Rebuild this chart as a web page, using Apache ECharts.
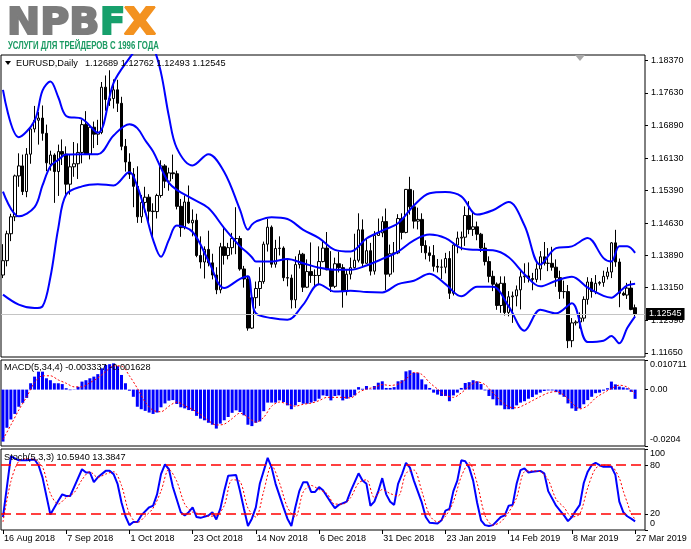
<!DOCTYPE html>
<html>
<head>
<meta charset="utf-8">
<title>EURUSD Daily</title>
<script src="https://cdn.jsdelivr.net/npm/echarts@6.0.0/dist/echarts.min.js"></script>
<style>
html, body { margin: 0; padding: 0; background: #fff; }
#chart { width: 691px; height: 549px; }
</style>
</head>
<body>
<div id="chart"></div>
<script>
// EURUSD daily, 16 Aug 2018 - 27 Mar 2019 (incl. three short Sunday bars in March)
var opens = [
  1.1344, 1.1377, 1.1439, 1.1478, 1.1572, 1.1595, 1.1536, 1.1622, 1.1680, 1.1700,
  1.1705, 1.1670, 1.1599, 1.1620, 1.1582, 1.1628, 1.1622, 1.1553, 1.1593, 1.1600,
  1.1626, 1.1690, 1.1622, 1.1684, 1.1668, 1.1672, 1.1776, 1.1745, 1.1750, 1.1770,
  1.1739, 1.1640, 1.1604, 1.1576, 1.1548, 1.1478, 1.1511, 1.1523, 1.1491, 1.1490,
  1.1527, 1.1595, 1.1560, 1.1579, 1.1577, 1.1502, 1.1453, 1.1512, 1.1464, 1.1470,
  1.1389, 1.1374, 1.1403, 1.1372, 1.1344, 1.1310, 1.1409, 1.1389, 1.1407, 1.1428,
  1.1428, 1.1358, 1.1335, 1.1222, 1.1292, 1.1313, 1.1329, 1.1415, 1.1454, 1.1369,
  1.1405, 1.1406, 1.1338, 1.1337, 1.1287, 1.1368, 1.1392, 1.1316, 1.1352, 1.1343,
  1.1343, 1.1375, 1.1406, 1.1356, 1.1318, 1.1370, 1.1361, 1.1306, 1.1346, 1.1361,
  1.1378, 1.1448, 1.1371, 1.1400, 1.1353, 1.1435, 1.1441, 1.1467, 1.1346, 1.1393,
  1.1395, 1.1474, 1.1442, 1.1541, 1.1501, 1.1468, 1.1472, 1.1412, 1.1395, 1.1389,
  1.1364, 1.1362, 1.1362, 1.1382, 1.1302, 1.1413, 1.1429, 1.1431, 1.1481, 1.1449,
  1.1455, 1.1438, 1.1406, 1.1375, 1.1341, 1.1323, 1.1274, 1.1325, 1.1258, 1.1294,
  1.1296, 1.1310, 1.1340, 1.1342, 1.1336, 1.1334, 1.1358, 1.1386, 1.1371, 1.1371,
  1.1362, 1.1338, 1.1306, 1.1306, 1.1193, 1.1234, 1.1236, 1.1245, 1.1288, 1.1328,
  1.1306, 1.1325, 1.1327, 1.1341, 1.1351, 1.1418, 1.1374, 1.1302, 1.1298, 1.1314,
  1.12689
];
var highs = [
  1.1415, 1.1446, 1.1485, 1.1575, 1.1624, 1.1621, 1.1636, 1.1685, 1.1733, 1.1719,
  1.1734, 1.1690, 1.1630, 1.1624, 1.1644, 1.1656, 1.1640, 1.1621, 1.1650, 1.1647,
  1.1701, 1.1721, 1.1687, 1.1697, 1.1701, 1.1788, 1.1803, 1.1815, 1.1794, 1.1793,
  1.1754, 1.1657, 1.1624, 1.1590, 1.1594, 1.1528, 1.1547, 1.1530, 1.1509, 1.1531,
  1.1608, 1.1599, 1.1591, 1.1621, 1.1584, 1.1519, 1.1527, 1.1550, 1.1495, 1.1485,
  1.1433, 1.1410, 1.1446, 1.1393, 1.1362, 1.1418, 1.1456, 1.1418, 1.1441, 1.1500,
  1.1434, 1.1365, 1.1342, 1.1307, 1.1329, 1.1362, 1.1421, 1.1473, 1.1458, 1.1425,
  1.1433, 1.1410, 1.1382, 1.1345, 1.1387, 1.1401, 1.1395, 1.1380, 1.1419, 1.1357,
  1.1410, 1.1424, 1.1443, 1.1399, 1.1384, 1.1398, 1.1369, 1.1356, 1.1384, 1.1439,
  1.1486, 1.1472, 1.1427, 1.1418, 1.1445, 1.1474, 1.1479, 1.1497, 1.1414, 1.1420,
  1.1484, 1.1486, 1.1542, 1.1570, 1.1539, 1.1499, 1.1486, 1.1424, 1.1410, 1.1413,
  1.1381, 1.1380, 1.1395, 1.1399, 1.1419, 1.1444, 1.1444, 1.1502, 1.1514, 1.1488,
  1.1467, 1.1441, 1.1418, 1.1387, 1.1354, 1.1327, 1.1341, 1.1341, 1.1307, 1.1306,
  1.1320, 1.1353, 1.1371, 1.1373, 1.1349, 1.1371, 1.1399, 1.1420, 1.1406, 1.1409,
  1.1380, 1.1354, 1.1331, 1.1321, 1.1245, 1.1240, 1.1258, 1.1295, 1.1339, 1.1337,
  1.1344, 1.1330, 1.1354, 1.1362, 1.1420, 1.1448, 1.1382, 1.1306, 1.1326, 1.1331,
  1.12762
];
var lows = [
  1.1337, 1.1364, 1.1422, 1.1468, 1.1547, 1.1528, 1.1523, 1.1600, 1.1672, 1.1644,
  1.1653, 1.1583, 1.1584, 1.1510, 1.1526, 1.1597, 1.1526, 1.1529, 1.1570, 1.1565,
  1.1601, 1.1620, 1.1610, 1.1636, 1.1643, 1.1668, 1.1722, 1.1733, 1.1727, 1.1719,
  1.1631, 1.1582, 1.1565, 1.1500, 1.1464, 1.1464, 1.1488, 1.1464, 1.1432, 1.1474,
  1.1522, 1.1544, 1.1538, 1.1565, 1.1495, 1.1432, 1.1449, 1.1462, 1.1433, 1.1385,
  1.1359, 1.1336, 1.1364, 1.1334, 1.1300, 1.1302, 1.1368, 1.1380, 1.1391, 1.1392,
  1.1354, 1.1315, 1.1216, 1.1220, 1.1267, 1.1273, 1.1324, 1.1398, 1.1361, 1.1361,
  1.1389, 1.1330, 1.1318, 1.1267, 1.1268, 1.1359, 1.1305, 1.1314, 1.1326, 1.1315,
  1.1321, 1.1373, 1.1355, 1.1305, 1.1314, 1.1350, 1.1269, 1.1297, 1.1334, 1.1359,
  1.1373, 1.1362, 1.1370, 1.1343, 1.1345, 1.1434, 1.1431, 1.1309, 1.1340, 1.1350,
  1.1392, 1.1426, 1.1440, 1.1483, 1.1451, 1.1449, 1.1395, 1.1380, 1.1375, 1.1352,
  1.1350, 1.1335, 1.1348, 1.1289, 1.1297, 1.1394, 1.1401, 1.1411, 1.1438, 1.1434,
  1.1424, 1.1397, 1.1366, 1.1327, 1.1307, 1.1264, 1.1257, 1.1251, 1.1249, 1.1234,
  1.1272, 1.1265, 1.1326, 1.1327, 1.1309, 1.1327, 1.1332, 1.1366, 1.1353, 1.1354,
  1.1317, 1.1289, 1.1290, 1.1176, 1.1178, 1.1228, 1.1221, 1.1237, 1.1276, 1.1292,
  1.1300, 1.1320, 1.1317, 1.1334, 1.1337, 1.1363, 1.1270, 1.1296, 1.1289, 1.1263,
  1.12493
];
var closes = [
  1.1377, 1.1439, 1.1478, 1.1572, 1.1595, 1.1536, 1.1622, 1.1680, 1.1700, 1.1705,
  1.1670, 1.1602, 1.1620, 1.1582, 1.1628, 1.1622, 1.1553, 1.1593, 1.1600, 1.1626,
  1.1690, 1.1622, 1.1684, 1.1668, 1.1672, 1.1776, 1.1748, 1.1750, 1.1770, 1.1739,
  1.1640, 1.1604, 1.1576, 1.1548, 1.1478, 1.1511, 1.1523, 1.1491, 1.1490, 1.1527,
  1.1595, 1.1560, 1.1579, 1.1577, 1.1502, 1.1453, 1.1512, 1.1464, 1.1470, 1.1389,
  1.1374, 1.1403, 1.1372, 1.1344, 1.1310, 1.1409, 1.1389, 1.1407, 1.1428, 1.1428,
  1.1358, 1.1335, 1.1222, 1.1292, 1.1313, 1.1329, 1.1415, 1.1454, 1.1369, 1.1405,
  1.1406, 1.1338, 1.1337, 1.1287, 1.1368, 1.1392, 1.1316, 1.1352, 1.1343, 1.1343,
  1.1375, 1.1406, 1.1356, 1.1318, 1.1370, 1.1361, 1.1306, 1.1346, 1.1361, 1.1378,
  1.1448, 1.1371, 1.1400, 1.1353, 1.1435, 1.1441, 1.1467, 1.1346, 1.1393, 1.1395,
  1.1474, 1.1442, 1.1541, 1.1501, 1.1468, 1.1472, 1.1412, 1.1395, 1.1389, 1.1364,
  1.1362, 1.1362, 1.1382, 1.1302, 1.1413, 1.1429, 1.1431, 1.1481, 1.1449, 1.1455,
  1.1438, 1.1406, 1.1375, 1.1341, 1.1323, 1.1274, 1.1325, 1.1258, 1.1294, 1.1296,
  1.1310, 1.1340, 1.1342, 1.1336, 1.1334, 1.1358, 1.1386, 1.1371, 1.1371, 1.1362,
  1.1338, 1.1306, 1.1306, 1.1193, 1.1234, 1.1236, 1.1245, 1.1288, 1.1328, 1.1306,
  1.1325, 1.1327, 1.1341, 1.1351, 1.1418, 1.1374, 1.1302, 1.1298, 1.1314, 1.1265,
  1.12545
];
var lastBid = 1.12545;

// Bollinger(20,2) at these bar numbers
var bandIdx = [0, 4, 8, 10, 12, 14, 16, 20, 24, 28, 32, 34, 36, 38, 40, 42, 44, 48, 52, 56,
  60, 62, 63, 64, 68, 72, 76, 80, 84, 88, 92, 96, 100, 104, 108, 112, 116, 120, 124, 128,
  132, 136, 140, 144, 148, 152, 154, 156, 158, 160];
var bandUpper = [1.1770, 1.1661, 1.1699, 1.1768, 1.1789, 1.1753, 1.1710, 1.1703, 1.1671, 1.1786,
  1.1843, 1.1865, 1.1880, 1.1868, 1.1809, 1.1709, 1.1636, 1.1596, 1.1622, 1.1581,
  1.1494, 1.1448, 1.1460, 1.1467, 1.1477, 1.1473, 1.1448, 1.1429, 1.1402, 1.1398,
  1.1428, 1.1446, 1.1463, 1.1504, 1.1532, 1.1535, 1.1525, 1.1483, 1.1493, 1.1512,
  1.1458, 1.1368, 1.1406, 1.1410, 1.1429, 1.1383, 1.1375, 1.1410, 1.1410, 1.1395];
var bandMiddle = [1.1536, 1.1479, 1.1500, 1.1550, 1.1594, 1.1609, 1.1621, 1.1622, 1.1622, 1.1665,
  1.1691, 1.1682, 1.1654, 1.1628, 1.1590, 1.1556, 1.1540, 1.1519, 1.1498, 1.1452,
  1.1410, 1.1394, 1.1385, 1.1375, 1.1375, 1.1381, 1.1371, 1.1361, 1.1356, 1.1356,
  1.1366, 1.1381, 1.1398, 1.1424, 1.1437, 1.1429, 1.1406, 1.1402, 1.1401, 1.1385,
  1.1346, 1.1318, 1.1331, 1.1340, 1.1315, 1.1296, 1.1292, 1.1305, 1.1320, 1.1324];
var bandLower = [1.1299, 1.1276, 1.1268, 1.1272, 1.1339, 1.1452, 1.1529, 1.1548, 1.1553, 1.1550,
  1.1581, 1.1548, 1.1490, 1.1425, 1.1386, 1.1425, 1.1458, 1.1443, 1.1377, 1.1314,
  1.1335, 1.1341, 1.1291, 1.1256, 1.1245, 1.1241, 1.1276, 1.1323, 1.1306, 1.1308,
  1.1305, 1.1304, 1.1323, 1.1331, 1.1347, 1.1323, 1.1295, 1.1317, 1.1317, 1.1272,
  1.1216, 1.1264, 1.1256, 1.1279, 1.1190, 1.1193, 1.1204, 1.1187, 1.1222, 1.1249];

// MACD(5,34,4)
var macdHist = [
  -0.0188, -0.0138, -0.0108, -0.0088, -0.0062, -0.0048, -0.0030, 0.0023, 0.0047, 0.0065,
  0.0065, 0.0041, 0.0034, 0.0023, 0.0023, 0.0020, 0.0005, -0.0002, 0.0001, 0.0010,
  0.0029, 0.0034, 0.0041, 0.0047, 0.0056, 0.0077, 0.0089, 0.0092, 0.0095, 0.0085,
  0.0053, 0.0023, -0.0004, -0.0026, -0.0062, -0.0071, -0.0077, -0.0083, -0.0088, -0.0083,
  -0.0064, -0.0050, -0.0040, -0.0038, -0.0052, -0.0064, -0.0068, -0.0074, -0.0077, -0.0095,
  -0.0105, -0.0111, -0.0120, -0.0127, -0.0141, -0.0123, -0.0111, -0.0099, -0.0084, -0.0075,
  -0.0081, -0.0093, -0.0127, -0.0132, -0.0120, -0.0115, -0.0078, -0.0047, -0.0047, -0.0047,
  -0.0039, -0.0045, -0.0057, -0.0071, -0.0057, -0.0045, -0.0051, -0.0051, -0.0047, -0.0042,
  -0.0033, -0.0021, -0.0023, -0.0039, -0.0023, -0.0021, -0.0039, -0.0033, -0.0027, -0.0021,
  0.0009, 0.0003, 0.0013, 0.0001, 0.0013, 0.0025, 0.0030, 0.0006, 0.0006, 0.0009,
  0.0030, 0.0034, 0.0066, 0.0070, 0.0061, 0.0061, 0.0037, 0.0019, 0.0006, -0.0011,
  -0.0018, -0.0023, -0.0023, -0.0042, -0.0021, -0.0011, 0.0006, 0.0024, 0.0027, 0.0034,
  0.0030, 0.0020, -0.0003, -0.0023, -0.0035, -0.0057, -0.0057, -0.0071, -0.0071, -0.0071,
  -0.0057, -0.0047, -0.0042, -0.0033, -0.0027, -0.0018, -0.0011, -0.0005, -0.0003, -0.0003,
  -0.0009, -0.0018, -0.0026, -0.0050, -0.0068, -0.0077, -0.0068, -0.0053, -0.0038, -0.0026,
  -0.0013, -0.0011, -0.0004, 0.0005, 0.0029, 0.0019, 0.0011, 0.0008, 0.0005, -0.0008,
  -0.00334
];
var macdSigIdx = [0, 2, 4, 6, 8, 10, 12, 14, 16, 18, 20, 22, 24, 26, 28, 30, 32, 34, 36, 38,
  40, 42, 44, 46, 48, 50, 52, 54, 56, 58, 60, 62, 64, 66, 68, 70, 72, 74, 76, 78,
  80, 82, 84, 86, 88, 90, 92, 94, 96, 98, 100, 102, 104, 106, 108, 110, 112, 114, 116, 118,
  120, 122, 124, 126, 128, 130, 132, 134, 136, 138, 140, 142, 144, 146, 148, 150, 152, 154, 156, 158, 160];
var macdSignal = [-0.0180, -0.0128, -0.0074, -0.0026, 0.0025, 0.0050, 0.0050, 0.0035, 0.0023, 0.0010,
  0.0010, 0.0025, 0.0042, 0.0065, 0.0086, 0.0085, 0.0050, 0.0005, -0.0045, -0.0075,
  -0.0080, -0.0060, -0.0045, -0.0058, -0.0072, -0.0090, -0.0112, -0.0128, -0.0125, -0.0105,
  -0.0085, -0.0100, -0.0118, -0.0100, -0.0060, -0.0045, -0.0052, -0.0060, -0.0053, -0.0049,
  -0.0040, -0.0028, -0.0028, -0.0028, -0.0030, -0.0010, 0.0002, 0.0008, 0.0018, 0.0015,
  0.0020, 0.0038, 0.0062, 0.0055, 0.0025, 0.0002, -0.0020, -0.0028, -0.0012, 0.0012,
  0.0028, 0.0018, -0.0012, -0.0040, -0.0062, -0.0066, -0.0055, -0.0040, -0.0025, -0.0012,
  -0.0007, -0.0020, -0.0048, -0.0070, -0.0058, -0.0030, -0.0012, 0.0004, 0.0016, 0.0009,
  -0.001628];
var macdLast = -0.003337;

// Stochastic(5,3,3)
var stochIdx = [0, 2, 4, 6, 8, 9, 10, 12, 14, 15, 16, 17, 18, 20, 21, 22, 23, 24, 26, 27,
  28, 29, 30, 31, 32, 33, 34, 35, 37, 38, 39, 40, 41, 42, 43, 45, 46, 47, 48, 49,
  50, 52, 53, 54, 55, 56, 57, 59, 60, 61, 62, 63, 64, 65, 67, 68, 69, 71, 72, 73,
  74, 75, 76, 77, 78, 79, 80, 81, 83, 84, 85, 87, 88, 90, 91, 92, 93, 94, 95, 96,
  97, 98, 99, 100, 101, 102, 103, 104, 106, 107, 108, 110, 111, 112, 113, 114, 115, 116, 117, 118,
  119, 120, 121, 122, 123, 124, 126, 127, 128, 129, 130, 131, 132, 133, 134, 136, 137, 138, 140, 141,
  142, 143, 144, 145, 146, 147, 148, 149, 150, 151, 152, 154, 155, 156, 157, 158, 159, 160];
var stochMain = [16, 91, 86, 86, 87, 80, 65, 19, 36, 44, 42, 42, 53, 75, 71, 71, 59, 65, 73, 73,
  69, 57, 34, 17, 6, 10, 10, 18, 28, 30, 44, 69, 81, 75, 53, 22, 18, 22, 28, 16,
  15, 18, 22, 13, 26, 48, 67, 68, 48, 26, 5, 14, 28, 57, 89, 77, 57, 28, 14, 5,
  28, 48, 59, 59, 47, 47, 53, 49, 34, 27, 31, 35, 48, 70, 61, 57, 30, 35, 48, 64,
  44, 35, 31, 57, 69, 83, 77, 61, 34, 16, 9, 8, 12, 24, 26, 48, 61, 86, 85, 77,
  61, 34, 12, 6, 5, 6, 16, 18, 30, 31, 57, 74, 76, 71, 72, 73, 70, 48, 30, 24,
  18, 11, 16, 24, 31, 58, 72, 80, 83, 80, 78, 78, 68, 35, 22, 17, 14, 10.594];
var stochSigIdx = [0, 2, 4, 6, 8, 10, 12, 14, 16, 18, 20, 22, 24, 26, 28, 30, 32, 34, 36, 38,
  40, 42, 44, 46, 48, 50, 52, 54, 56, 58, 60, 62, 64, 66, 68, 70, 72, 74, 76, 78,
  80, 82, 84, 86, 88, 90, 92, 94, 96, 98, 100, 102, 104, 106, 108, 110, 112, 114, 116, 118,
  120, 122, 124, 126, 128, 130, 132, 134, 136, 138, 140, 142, 144, 146, 148, 150, 152, 154, 156, 157,
  158, 159, 160];
var stochSignal = [10, 60, 85, 88, 87, 78, 45, 32, 40, 46, 62, 72, 65, 69, 72, 55, 20, 9, 17, 27,
  48, 75, 60, 32, 22, 20, 17, 18, 30, 62, 60, 27, 16, 48, 80, 58, 28, 16, 47, 55,
  50, 45, 32, 32, 40, 58, 62, 40, 50, 45, 42, 70, 74, 48, 18, 10, 17, 35, 66, 83,
  58, 18, 6, 10, 22, 40, 72, 73, 72, 62, 38, 28, 16, 20, 52, 76, 80, 79, 64, 48,
  34, 20, 13.3847];

// scale ticks and labels
var priceTicks = [1.18370, 1.17630, 1.16890, 1.16130, 1.15390, 1.14630, 1.13890, 1.13150, 1.12390, 1.11650];
var macdTicks = [0.010711, 0, -0.0204];
var macdTickText = ['0.010711', '0.00', '-0.0204'];
var stochTicks = [100, 80, 20, 0];
var stochTickText = ['100', '80', '20', '0'];
var stochLevels = [80, 20];
var dateTickIdx = [0, 16, 32, 48, 64, 80, 96, 112, 128, 144, 160];
var dateTickText = ['16 Aug 2018', '7 Sep 2018', '1 Oct 2018', '23 Oct 2018', '14 Nov 2018',
  '6 Dec 2018', '31 Dec 2018', '23 Jan 2019', '14 Feb 2019', '8 Mar 2019', '27 Mar 2019'];

var FONT = 'Liberation Sans';
var SLOTS = 163; // bars plus the empty shift area on the right

var slots = [];
for (var s = 0; s < SLOTS; s++) slots.push(s);
var candles = opens.map(function (o, i) { return [o, closes[i], lows[i], highs[i]]; });
function pairs(idx, vals) {
    return idx.map(function (x, k) { return [x, vals[k]]; });
}

function edgeFormatter(vals, texts) {
    return function (v) {
        for (var k = 0; k < vals.length; k++) {
            if (Math.abs(v - vals[k]) < 1e-9) {
                if (k === 0) return '{t|' + texts[k] + '}';
                if (k === vals.length - 1) return '{b|' + texts[k] + '}';
                return texts[k];
            }
        }
        return '';
    };
}
var edgeRich = {
    t: { padding: [10, 0, 0, 0], fontFamily: FONT, fontSize: 9, color: '#000' },
    b: { padding: [0, 0, 12, 0], fontFamily: FONT, fontSize: 9, color: '#000' }
};

function xAxisFor(gridIndex, withLabels) {
    return {
        type: 'category',
        gridIndex: gridIndex,
        data: slots,
        boundaryGap: true,
        axisLine: { show: false },
        splitLine: { show: false },
        axisTick: withLabels ? {
            show: true,
            alignWithLabel: true,
            length: 4,
            interval: function (i) { return dateTickIdx.indexOf(i) >= 0; },
            lineStyle: { color: '#000' }
        } : { show: false },
        axisLabel: withLabels ? {
            show: true,
            interval: function (i) { return dateTickIdx.indexOf(i) >= 0; },
            formatter: function (v, i) {
                var k = dateTickIdx.indexOf(i);
                return k < 0 ? '' : dateTickText[k];
            },
            align: 'left',
            padding: [0, 0, 0, 1],
            margin: 4,
            color: '#000',
            fontFamily: FONT,
            fontSize: 9
        } : { show: false }
    };
}

var gridStyle = { left: 1, right: 46, show: true, borderColor: '#000', borderWidth: 1, backgroundColor: '#fff' };
var logoFont = { fontFamily: 'DejaVu Sans', fontWeight: 'bold', fontSize: 37, verticalAlign: 'middle', lineWidth: 2 };

var chart = echarts.init(document.getElementById('chart'));

var option = {
    animation: false,
    backgroundColor: '#fff',
    grid: [
        Object.assign({ top: 55, height: 302 }, gridStyle),
        Object.assign({ top: 360, height: 86 }, gridStyle),
        Object.assign({ top: 449, height: 81 }, gridStyle)
    ],
    xAxis: [xAxisFor(0, false), xAxisFor(1, false), xAxisFor(2, true)],
    yAxis: [
        {
            type: 'value', gridIndex: 0, position: 'right',
            min: 1.11555, max: 1.18501,
            axisLine: { show: false }, splitLine: { show: false },
            axisTick: { show: true, customValues: priceTicks, length: 3, lineStyle: { color: '#000' } },
            axisLabel: {
                customValues: priceTicks,
                formatter: function (v) { return v.toFixed(5); },
                margin: 6, color: '#000', fontFamily: FONT, fontSize: 9
            }
        },
        {
            type: 'value', gridIndex: 1, position: 'right',
            min: -0.0204, max: 0.010711,
            axisLine: { show: false }, splitLine: { show: false },
            axisTick: { show: true, customValues: macdTicks, length: 3, lineStyle: { color: '#000' } },
            axisLabel: {
                customValues: macdTicks,
                formatter: edgeFormatter(macdTicks, macdTickText),
                rich: edgeRich,
                margin: 5, color: '#000', fontFamily: FONT, fontSize: 9
            }
        },
        {
            type: 'value', gridIndex: 2, position: 'right',
            min: 0, max: 100,
            axisLine: { show: false }, splitLine: { show: false },
            axisTick: { show: true, customValues: stochTicks, length: 3, lineStyle: { color: '#000' } },
            axisLabel: {
                customValues: stochTicks,
                formatter: edgeFormatter(stochTicks, stochTickText),
                rich: edgeRich,
                margin: 5, color: '#000', fontFamily: FONT, fontSize: 9
            }
        }
    ],
    series: [
        {
            name: 'EURUSD',
            type: 'candlestick',
            xAxisIndex: 0, yAxisIndex: 0,
            data: candles,
            barWidth: 3,
            silent: true,
            itemStyle: { color: '#fff', color0: '#000', borderColor: '#000', borderColor0: '#000', borderWidth: 1 },
            markLine: {
                silent: true,
                precision: 5,
                symbol: ['none', 'none'],
                lineStyle: { color: '#c4c4c4', width: 1, type: 'solid' },
                label: {
                    show: true, position: 'end', distance: 1,
                    formatter: lastBid.toFixed(5),
                    backgroundColor: '#000', color: '#fff',
                    padding: [2, 3, 1, 3], fontFamily: FONT, fontSize: 9
                },
                data: [{ yAxis: lastBid }]
            }
        },
        {
            name: 'BB upper', type: 'line', xAxisIndex: 0, yAxisIndex: 0,
            data: pairs(bandIdx, bandUpper), showSymbol: false, smooth: 0.35, silent: true,
            lineStyle: { color: '#0000ff', width: 2 }
        },
        {
            name: 'BB middle', type: 'line', xAxisIndex: 0, yAxisIndex: 0,
            data: pairs(bandIdx, bandMiddle), showSymbol: false, smooth: 0.35, silent: true,
            lineStyle: { color: '#0000ff', width: 2 }
        },
        {
            name: 'BB lower', type: 'line', xAxisIndex: 0, yAxisIndex: 0,
            data: pairs(bandIdx, bandLower), showSymbol: false, smooth: 0.35, silent: true,
            lineStyle: { color: '#0000ff', width: 2 }
        },
        {
            name: 'MACD', type: 'bar', xAxisIndex: 1, yAxisIndex: 1,
            data: macdHist, barWidth: 3, silent: true,
            itemStyle: { color: '#0000ff' }
        },
        {
            name: 'MACD signal', type: 'line', xAxisIndex: 1, yAxisIndex: 1,
            data: pairs(macdSigIdx, macdSignal), showSymbol: false, smooth: 0.3, silent: true,
            lineStyle: { color: '#ff0000', width: 1, type: [2, 2] }
        },
        {
            name: 'Stoch', type: 'line', xAxisIndex: 2, yAxisIndex: 2,
            data: pairs(stochIdx, stochMain), showSymbol: false, silent: true,
            lineStyle: { color: '#0000ff', width: 2 },
            markLine: {
                silent: true,
                precision: 2,
                symbol: ['none', 'none'],
                label: { show: false },
                lineStyle: { color: '#ff0000', width: 1.5, type: [10, 5] },
                data: stochLevels.map(function (v) { return { yAxis: v }; })
            }
        },
        {
            name: 'Stoch signal', type: 'line', xAxisIndex: 2, yAxisIndex: 2,
            data: pairs(stochSigIdx, stochSignal), showSymbol: false, smooth: 0.3, silent: true,
            lineStyle: { color: '#ff0000', width: 1, type: [2, 2] }
        }
    ],
    graphic: [
        { type: 'text', x: 7, y: 24, z: 10, scaleX: 1.07, style: Object.assign({ text: 'NPB', fill: '#7c7c7c', stroke: '#7c7c7c' }, logoFont) },
        { type: 'text', x: 100, y: 24, z: 10, style: Object.assign({ text: 'F', fill: '#17a06c', stroke: '#17a06c' }, logoFont) },
        { type: 'text', x: 124, y: 24, z: 10, scaleX: 1.12, style: Object.assign({ text: 'X', fill: '#f39220', stroke: '#f39220' }, logoFont) },
        { type: 'text', x: 8, y: 46.5, z: 10, scaleX: 0.78, style: { text: 'УСЛУГИ ДЛЯ ТРЕЙДЕРОВ С 1996 ГОДА', fill: '#1a9a62', fontFamily: FONT, fontWeight: 'bold', fontSize: 10, verticalAlign: 'middle' } },
        { type: 'polygon', z: 10, shape: { points: [[5, 61], [11, 61], [8, 65]] }, style: { fill: '#000' } },
        { type: 'text', x: 16, y: 63.5, z: 10, style: { text: 'EURUSD,Daily', fill: '#000', fontFamily: FONT, fontSize: 9.2, verticalAlign: 'middle' } },
        { type: 'text', x: 85, y: 63.5, z: 10, style: { text: [opens[160], highs[160], lows[160], closes[160]].map(function (v) { return v.toFixed(5); }).join(' '), fill: '#000', fontFamily: FONT, fontSize: 9.2, verticalAlign: 'middle' } },
        { type: 'text', x: 4, y: 367, z: 10, style: { text: 'MACD(5,34,4) ' + macdLast.toFixed(6) + ' ' + macdSignal[macdSignal.length - 1].toFixed(6), fill: '#000', fontFamily: FONT, fontSize: 9.2, verticalAlign: 'middle' } },
        { type: 'text', x: 4, y: 457, z: 10, style: { text: 'Stoch(5,3,3) ' + stochMain[stochMain.length - 1].toFixed(4) + ' ' + stochSignal[stochSignal.length - 1].toFixed(4), fill: '#000', fontFamily: FONT, fontSize: 9.2, verticalAlign: 'middle' } },
        { type: 'polygon', z: 10, shape: { points: [[575, 55], [585, 55], [580, 61]] }, style: { fill: '#a8a8a8' } }
    ]
};

chart.setOption(option);
</script>
</body>
</html>
